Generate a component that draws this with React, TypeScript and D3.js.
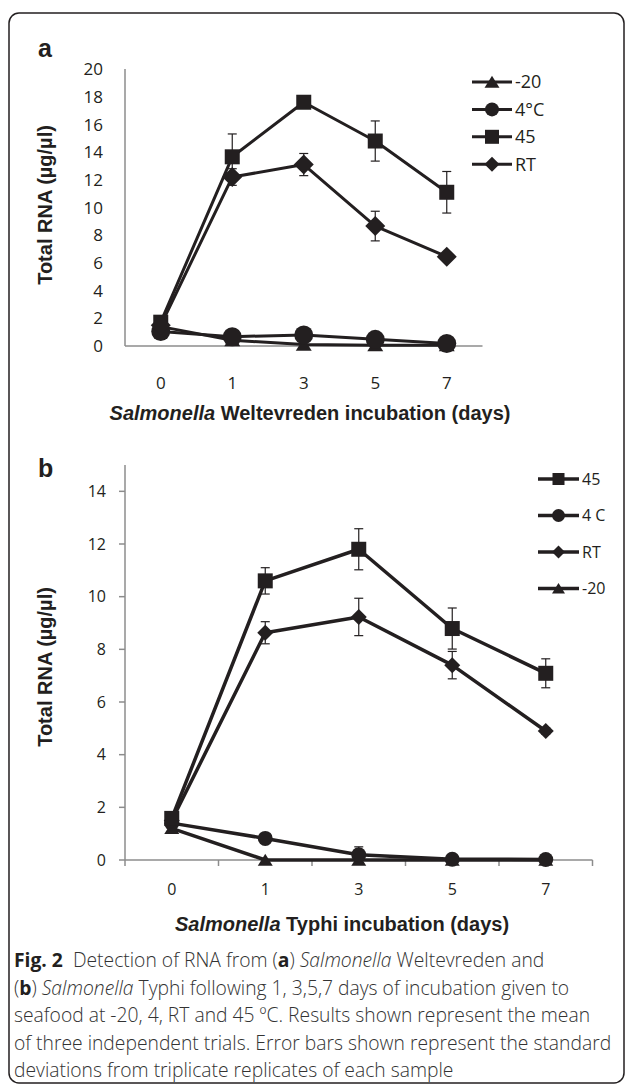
import React, { useRef, useEffect } from 'react';
import * as d3 from 'd3';

// days on the x axis (both panels)
const days = ['0', '1', '3', '5', '7'];

// panel a: Salmonella Weltevreden
const minus20A = [1.4, 0.42, 0.1, 0.05, 0.05];
const fourA = [1.05, 0.67, 0.8, 0.48, 0.18];
const fortyFiveA = [1.72, 13.66, 17.6, 14.8, 11.1];
const fortyFiveErrA = [0.1, 1.65, 0.3, 1.45, 1.5];
const rtA = [1.5, 12.2, 13.1, 8.66, 6.45];
const rtErrA = [0.1, 0.6, 0.8, 1.07, 0.15];
const ticksA = [0, 2, 4, 6, 8, 10, 12, 14, 16, 18, 20];

// panel b: Salmonella Typhi
const fortyFiveB = [1.58, 10.6, 11.8, 8.79, 7.09];
const fortyFiveErrB = [0.05, 0.5, 0.78, 0.78, 0.55];
const fourB = [1.4, 0.82, 0.2, 0.03, 0.02];
const fourErrB = [0, 0.05, 0.3, 0.02, 0];
const rtB = [1.5, 8.63, 9.23, 7.4, 4.9];
const rtErrB = [0.05, 0.42, 0.71, 0.52, 0.12];
const minus20B = [1.2, 0, 0, 0, 0];
const ticksB = [0, 2, 4, 6, 8, 10, 12, 14];

const INK = '#231f20';
const AXIS = '#8c8c8c';
const TICK_FONT = "'Open Sans', 'Noto Sans', sans-serif";
const BOLD_FONT = "'Liberation Sans', Arial, sans-serif";

const drawMarker = (g, shape, x, y, s) => {
    if (shape === 'square') {
        g.append('rect').attr('x', x - s / 2).attr('y', y - s / 2)
            .attr('width', s).attr('height', s).attr('fill', INK);
    } else if (shape === 'circle') {
        g.append('circle').attr('cx', x).attr('cy', y).attr('r', s / 2).attr('fill', INK);
    } else if (shape === 'diamond') {
        const h = s / 2;
        g.append('path').attr('d', `M${x},${y - h}L${x + h},${y}L${x},${y + h}L${x - h},${y}Z`).attr('fill', INK);
    } else {
        const w = s * 0.5;
        const h = s * 0.42;
        g.append('path').attr('d', `M${x},${y - h}L${x + w},${y + h * 0.9}L${x - w},${y + h * 0.9}Z`).attr('fill', INK);
    }
};

const App = () => {
    const svgRef = useRef();

    useEffect(() => {
        const svg = d3.select(svgRef.current);
        svg.selectAll('*').remove();

        // outer frame
        svg.append('rect')
            .attr('x', 9).attr('y', 13).attr('width', 615).attr('height', 1070)
            .attr('rx', 10).attr('fill', 'none').attr('stroke', INK).attr('stroke-width', 1.5);

        const drawPanel = (cfg) => {
            const x = d3.scaleBand().domain(days).range(cfg.xRange);
            const y = d3.scaleLinear().domain([0, cfg.yMax]).range(cfg.yRange);
            const cx = (d) => x(d) + x.bandwidth() / 2;
            const g = svg.append('g');

            // panel letter
            g.append('text').attr('x', 38).attr('y', cfg.letterY)
                .style('font-family', BOLD_FONT).style('font-weight', 'bold').style('font-size', '25px')
                .attr('fill', INK).text(cfg.letter);

            // axes
            g.append('line').attr('x1', cfg.xRange[0]).attr('x2', cfg.xRange[0])
                .attr('y1', cfg.yRange[0]).attr('y2', cfg.yRange[1])
                .attr('stroke', AXIS).attr('stroke-width', 1.5);
            g.append('line').attr('x1', cfg.xRange[0]).attr('x2', cfg.xRange[1])
                .attr('y1', cfg.yRange[0]).attr('y2', cfg.yRange[0])
                .attr('stroke', AXIS).attr('stroke-width', 1.5);

            if (cfg.tickMarks) {
                cfg.yTicks.forEach(t => {
                    g.append('line').attr('x1', cfg.xRange[0] - 6).attr('x2', cfg.xRange[0])
                        .attr('y1', y(t)).attr('y2', y(t)).attr('stroke', AXIS).attr('stroke-width', 1.5);
                });
                const edges = days.map(d => x(d)).concat([cfg.xRange[1]]);
                edges.forEach(e => {
                    g.append('line').attr('x1', e).attr('x2', e)
                        .attr('y1', cfg.yRange[0]).attr('y2', cfg.yRange[0] + 6)
                        .attr('stroke', AXIS).attr('stroke-width', 1.5);
                });
            }

            g.selectAll('.ytick').data(cfg.yTicks).enter().append('text')
                .attr('x', cfg.yLabelX).attr('y', d => y(d)).attr('dy', '0.36em')
                .attr('text-anchor', 'end')
                .style('font-family', TICK_FONT).style('font-size', cfg.tickSize)
                .attr('fill', INK).text(d => d);

            g.selectAll('.xtick').data(days).enter().append('text')
                .attr('x', d => cx(d)).attr('y', cfg.xLabelY).attr('dy', '0.36em')
                .attr('text-anchor', 'middle')
                .style('font-family', TICK_FONT).style('font-size', cfg.tickSize)
                .attr('fill', INK).text(d => d);

            // axis titles
            const xt = g.append('text').attr('x', cfg.xTitle[0]).attr('y', cfg.xTitle[1])
                .attr('dy', '0.36em').attr('text-anchor', 'middle')
                .style('font-family', BOLD_FONT).style('font-weight', 'bold').style('font-size', '20px')
                .attr('fill', INK);
            xt.append('tspan').style('font-style', 'italic').text('Salmonella');
            xt.append('tspan').text(cfg.xTitleRest);

            g.append('text')
                .attr('transform', `translate(${cfg.yTitle[0]},${cfg.yTitle[1]}) rotate(-90)`)
                .attr('dy', '0.36em').attr('text-anchor', 'middle')
                .style('font-family', BOLD_FONT).style('font-weight', 'bold').style('font-size', '20px')
                .attr('fill', INK).text('Total RNA (µg/µl)');

            // series lines
            const line = d3.line().x((d, i) => cx(days[i])).y(d => y(d));
            cfg.series.forEach(s => {
                g.append('path').attr('d', line(s.values)).attr('fill', 'none')
                    .attr('stroke', INK).attr('stroke-width', cfg.lineWidth).attr('stroke-linejoin', 'round');
            });

            // error bars
            cfg.series.forEach(s => {
                if (!s.err) return;
                s.values.forEach((v, i) => {
                    const e = s.err[i];
                    if (e <= 0.06) return;
                    const px = cx(days[i]);
                    g.append('line').attr('x1', px).attr('x2', px)
                        .attr('y1', y(v - e)).attr('y2', y(v + e)).attr('stroke', INK).attr('stroke-width', 1.2);
                    [v - e, v + e].forEach(w => {
                        g.append('line').attr('x1', px - 4.5).attr('x2', px + 4.5)
                            .attr('y1', y(w)).attr('y2', y(w)).attr('stroke', INK).attr('stroke-width', 1.2);
                    });
                });
            });

            // markers
            cfg.series.forEach(s => {
                s.values.forEach((v, i) => drawMarker(g, s.shape, cx(days[i]), y(v), cfg.markerSize[s.shape]));
            });

            // legend
            cfg.legend.forEach((name, i) => {
                const s = cfg.series.find(q => q.name === name);
                const ly = cfg.legendY + i * cfg.legendStep;
                g.append('line').attr('x1', cfg.legendX).attr('x2', cfg.legendX + cfg.legendLen)
                    .attr('y1', ly).attr('y2', ly).attr('stroke', INK).attr('stroke-width', cfg.lineWidth);
                drawMarker(g, s.shape, cfg.legendX + cfg.legendLen / 2, ly, cfg.legendMarker[s.shape]);
                g.append('text').attr('x', cfg.legendX + cfg.legendLen + 3).attr('y', ly).attr('dy', '0.36em')
                    .style('font-family', TICK_FONT).style('font-size', cfg.legendFont)
                    .attr('fill', INK).text(s.label);
            });
        };

        drawPanel({
            letter: 'a', letterY: 57,
            xRange: [125, 482.5], yRange: [346, 69], yMax: 20, yTicks: ticksA,
            tickMarks: false, yLabelX: 103, xLabelY: 383, tickSize: '17px',
            xTitle: [310, 413], xTitleRest: ' Weltevreden incubation (days)',
            yTitle: [45, 205],
            lineWidth: 3,
            markerSize: { square: 15, circle: 19, diamond: 20, triangle: 16 },
            legendMarker: { square: 14, circle: 14, diamond: 15, triangle: 15 },
            series: [
                { name: 'm20', label: '-20', shape: 'triangle', values: minus20A },
                { name: 'four', label: '4°C', shape: 'circle', values: fourA },
                { name: 'ff', label: '45', shape: 'square', values: fortyFiveA, err: fortyFiveErrA },
                { name: 'rt', label: 'RT', shape: 'diamond', values: rtA, err: rtErrA }
            ],
            legend: ['m20', 'four', 'ff', 'rt'],
            legendX: 472, legendLen: 40, legendY: 82, legendStep: 27.4, legendFont: '18px'
        });

        drawPanel({
            letter: 'b', letterY: 477,
            xRange: [125, 592.5], yRange: [860, 465], yMax: 15, yTicks: ticksB,
            tickMarks: true, yLabelX: 106, xLabelY: 889, tickSize: '16px',
            xTitle: [342, 924], xTitleRest: ' Typhi incubation (days)',
            yTitle: [45, 667],
            lineWidth: 3.5,
            markerSize: { square: 15, circle: 15, diamond: 16, triangle: 15 },
            legendMarker: { square: 12, circle: 13, diamond: 13, triangle: 13 },
            series: [
                { name: 'm20', label: '-20', shape: 'triangle', values: minus20B },
                { name: 'four', label: '4 C', shape: 'circle', values: fourB, err: fourErrB },
                { name: 'rt', label: 'RT', shape: 'diamond', values: rtB, err: rtErrB },
                { name: 'ff', label: '45', shape: 'square', values: fortyFiveB, err: fortyFiveErrB }
            ],
            legend: ['ff', 'four', 'rt', 'm20'],
            legendX: 538, legendLen: 41, legendY: 479, legendStep: 36.5, legendFont: '16px'
        });

        // caption
        const cap = svg.append('text').attr('x', 14).attr('y', 967)
            .style('font-family', "'Open Sans', 'Noto Sans', sans-serif").style('font-size', '19.3px')
            .style('font-weight', 300).attr('fill', '#333');
        const lines = [
            [['Fig. 2', 'bold'], ['  Detection of RNA from (', ''], ['a', 'bold'], [') ', ''], ['Salmonella', 'italic'], [' Weltevreden and', '']],
            [['(', ''], ['b', 'bold'], [') ', ''], ['Salmonella', 'italic'], [' Typhi following 1, 3,5,7 days of incubation given to', '']],
            [['seafood at -20, 4, RT and 45 ºC. Results shown represent the mean', '']],
            [['of three independent trials. Error bars shown represent the standard', '']],
            [['deviations from triplicate replicates of each sample', '']]
        ];
        lines.forEach((parts, li) => {
            parts.forEach((p, pi) => {
                const t = cap.append('tspan').text(p[0]).attr('xml:space', 'preserve');
                if (pi === 0) t.attr('x', 14).attr('dy', li === 0 ? 0 : 27.5);
                if (p[1] === 'bold') t.style('font-weight', 'bold').attr('fill', INK);
                if (p[1] === 'italic') t.style('font-style', 'italic');
            });
        });
    }, []);

    return (
        <svg ref={svgRef} width={629} height={1086}
            style={{ position: 'absolute', left: 0, top: 0, background: '#fff' }} />
    );
};

export default App;
